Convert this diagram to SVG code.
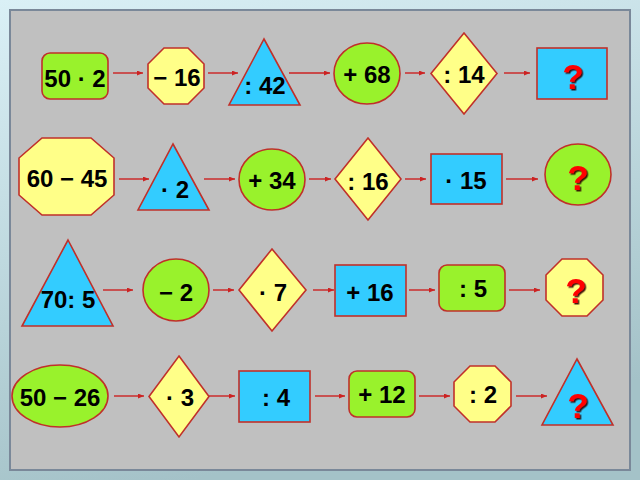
<svg xmlns="http://www.w3.org/2000/svg" width="640" height="480" viewBox="0 0 640 480">
<defs>
<linearGradient id="bg" x1="0" y1="0" x2="0.3" y2="1">
<stop offset="0" stop-color="#daf0f6"/>
<stop offset="1" stop-color="#a4c2c8"/>
</linearGradient>
<marker id="ah" markerUnits="userSpaceOnUse" markerWidth="7" markerHeight="6" refX="6" refY="2.5" orient="auto">
<path d="M0,0 L6,2.5 L0,5 z" fill="#cc2222"/>
</marker>
<filter id="sh" x="-30%" y="-30%" width="170%" height="170%">
<feDropShadow dx="1.5" dy="1.5" stdDeviation="0.4" flood-color="#330000" flood-opacity="0.9"/>
</filter>
</defs>
<style>
.s{stroke:#c0302a;stroke-width:1.6}
.g{fill:#99f22c}
.y{fill:#ffff88}
.b{fill:#33ccff}
.t{font-family:"Liberation Sans",Arial,sans-serif;font-weight:bold;font-size:24px;fill:#000;text-anchor:middle}
.q{font-family:"Liberation Sans",Arial,sans-serif;font-weight:bold;font-size:35px;fill:#ff0000;text-anchor:middle;filter:url(#sh)}
.c line{stroke:#cc2222;stroke-width:1.4;marker-end:url(#ah)}
</style>
<rect x="0" y="0" width="640" height="480" fill="url(#bg)"/>
<rect x="10" y="10" width="620" height="460" fill="#c0c0c0" stroke="#7a8899" stroke-width="2"/>

<g class="c" id="connectors">
<line x1="113" y1="73" x2="143" y2="73"/>
<line x1="208" y1="73" x2="238" y2="73"/>
<line x1="289" y1="73" x2="330" y2="73"/>
<line x1="405" y1="73" x2="425" y2="73"/>
<line x1="504" y1="73" x2="530" y2="73"/>
<line x1="119" y1="179" x2="149" y2="179"/>
<line x1="204" y1="179" x2="235" y2="179"/>
<line x1="309" y1="179" x2="331" y2="179"/>
<line x1="405" y1="179" x2="426" y2="179"/>
<line x1="506" y1="179" x2="538" y2="179"/>
<line x1="103" y1="290" x2="133" y2="290"/>
<line x1="213" y1="290" x2="234" y2="290"/>
<line x1="313" y1="290" x2="334" y2="290"/>
<line x1="409" y1="290" x2="435" y2="290"/>
<line x1="509" y1="290" x2="540" y2="290"/>
<line x1="114" y1="396" x2="144" y2="396"/>
<line x1="209" y1="396" x2="235" y2="396"/>
<line x1="315" y1="396" x2="345" y2="396"/>
<line x1="419" y1="396" x2="450" y2="396"/>
<line x1="516" y1="396" x2="547" y2="396"/>
</g>

<g id="n1a"><rect class="s g" x="42" y="53" width="66" height="46" rx="8"/><text class="t" x="75" y="87">50 · 2</text></g>
<g id="n1b"><polygon class="s y" points="164,48 188,48 204,64 204,88 188,104 164,104 148,88 148,64"/><text class="t" x="177" y="86">− 16</text></g>
<g id="n1c"><polygon class="s b" points="264,39 300,105 229,105"/><text class="t" x="265" y="94">: 42</text></g>
<g id="n1d"><ellipse class="s g" cx="367" cy="73.5" rx="33" ry="30.5"/><text class="t" x="367" y="83">+ 68</text></g>
<g id="n1e"><polygon class="s y" points="464,33 497,73.5 464,114 431,73.5"/><text class="t" x="464" y="83">: 14</text></g>
<g id="n1f"><rect class="s b" x="537" y="48" width="70" height="51"/><text class="q" x="573" y="89">?</text></g>

<g id="n2a"><polygon class="s y" points="42,138 91,138 114,158 114,195 91,215 42,215 19,195 19,158"/><text class="t" x="67" y="187">60 − 45</text></g>
<g id="n2b"><polygon class="s b" points="173,144 209,210 138,210"/><text class="t" x="175" y="198">· 2</text></g>
<g id="n2c"><ellipse class="s g" cx="272" cy="179.5" rx="33" ry="30.5"/><text class="t" x="272" y="189">+ 34</text></g>
<g id="n2d"><polygon class="s y" points="368,138 401,179 368,220 335,179"/><text class="t" x="368" y="190">: 16</text></g>
<g id="n2e"><rect class="s b" x="431" y="154" width="71" height="50"/><text class="t" x="466" y="189">· 15</text></g>
<g id="n2f"><ellipse class="s g" cx="578" cy="174.5" rx="33" ry="30.5"/><text class="q" x="578" y="190">?</text></g>

<g id="n3a"><polygon class="s b" points="68,240 113,326 22,326"/><text class="t" x="68" y="308">70: 5</text></g>
<g id="n3b"><ellipse class="s g" cx="176" cy="290" rx="33" ry="31"/><text class="t" x="176" y="301">− 2</text></g>
<g id="n3c"><polygon class="s y" points="272,249 306,290 272,331 239,290"/><text class="t" x="273" y="301">· 7</text></g>
<g id="n3d"><rect class="s b" x="335" y="265" width="71" height="51"/><text class="t" x="370" y="301">+ 16</text></g>
<g id="n3e"><rect class="s g" x="439" y="265" width="66" height="46" rx="8"/><text class="t" x="473" y="297">: 5</text></g>
<g id="n3f"><polygon class="s y" points="562,259 587,259 603,275 603,300 587,316 562,316 546,300 546,275"/><text class="q" x="576" y="303">?</text></g>

<g id="n4a"><ellipse class="s g" cx="60" cy="396" rx="48" ry="31"/><text class="t" x="60" y="406">50 − 26</text></g>
<g id="n4b"><polygon class="s y" points="179,356 209,396.5 179,437 149,396.5"/><text class="t" x="180" y="406">· 3</text></g>
<g id="n4c"><rect class="s b" x="239" y="371" width="71" height="51"/><text class="t" x="276" y="406">: 4</text></g>
<g id="n4d"><rect class="s g" x="349" y="371" width="66" height="46" rx="8"/><text class="t" x="382" y="403">+ 12</text></g>
<g id="n4e"><polygon class="s y" points="470,366 495,366 511,382 511,406 495,422 470,422 454,406 454,382"/><text class="t" x="483" y="403">: 2</text></g>
<g id="n4f"><polygon class="s b" points="577,359 613,425 542,425"/><text class="q" x="578" y="418">?</text></g>
</svg>
